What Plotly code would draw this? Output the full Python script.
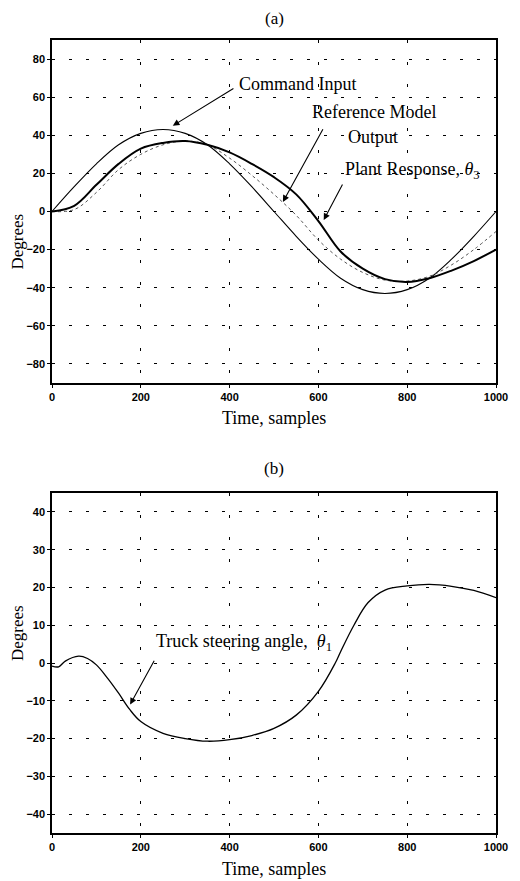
import plotly.graph_objects as go
from plotly.subplots import make_subplots

# ---- data ----
t_a = [0, 50, 100, 150, 200, 250, 300, 350, 400, 450, 500, 550, 600, 650, 700, 750, 800, 850, 900, 950, 1000]
command_input = [0, 13, 25, 35, 41, 43, 41, 35, 25, 13, 0, -13, -25, -35, -41, -43, -41, -35, -25, -13, 0]
plant_response = [0, 3, 14, 25, 33, 36, 37, 35, 31, 25, 18, 9, -5, -21, -30, -35.5, -37, -35, -31, -26, -20]
reference_output = [0, 1, 10, 22, 30, 35, 37, 35, 28, 19, 9, -2, -15, -25, -32, -36, -36.5, -34, -28, -20, -10.5]

t_b = [0, 15, 30, 60, 80, 100, 125, 150, 175, 200, 250, 300, 350, 400, 450, 500, 550, 600, 638, 650, 680, 712, 750, 800, 850, 900, 950, 1000]
steering_angle = [-0.8, -1, 0.5, 1.8, 1.2, -0.5, -4, -8, -12.3, -15.5, -18.6, -20, -20.7, -20.3, -19.2, -17.3, -13.8, -7.5, 0, 3, 10, 16, 19.3, 20.4, 20.8, 20.3, 19.2, 17.3]

x_ticks = [0, 200, 400, 600, 800, 1000]
y_ticks_a = [-80, -60, -40, -20, 0, 20, 40, 60, 80]
y_ticks_b = [-40, -30, -20, -10, 0, 10, 20, 30, 40]

# page body has an 8px margin, so the figure is drawn 8px right/down
W, H = 512, 873
mL, mR, mT, mB = 44, 17, 32, 48
plotH = H - mT - mB
top_a, bot_a = 32, 375
top_b, bot_b = 485, 825
dom_a = [(H - mB - bot_a) / plotH, (H - mB - top_a) / plotH]
dom_b = [(H - mB - bot_b) / plotH, (H - mB - top_b) / plotH]

fig = make_subplots(rows=2, cols=1)

fig.add_trace(go.Scatter(x=t_a, y=command_input, mode="lines", line=dict(color="black", width=1.1, shape="spline")), row=1, col=1)
fig.add_trace(go.Scatter(x=t_a, y=reference_output, mode="lines", line=dict(color="#555555", width=1, dash="dot", shape="spline")), row=1, col=1)
fig.add_trace(go.Scatter(x=t_a, y=plant_response, mode="lines", line=dict(color="black", width=2, shape="spline")), row=1, col=1)
fig.add_trace(go.Scatter(x=t_b, y=steering_angle, mode="lines", line=dict(color="black", width=1.3, shape="spline")), row=2, col=1)

serif = "Liberation Serif"
sans = "Liberation Sans"

axis_common = dict(
    showline=True, linecolor="black", linewidth=1.5, mirror=True,
    ticks="outside", ticklen=3, tickcolor="black",
    tickfont=dict(family=sans, size=11, color="black", weight="bold"),
    showgrid=True, gridcolor="black", gridwidth=1, zeroline=False,
)

fig.update_xaxes(axis_common, range=[0, 1000], tickvals=x_ticks, griddash="3px,19px")
fig.update_yaxes(axis_common, griddash="3px,14px")
fig.update_yaxes(range=[-90, 90], tickvals=y_ticks_a, domain=dom_a, row=1, col=1)
fig.update_yaxes(range=[-45, 45], tickvals=y_ticks_b, domain=dom_b, row=2, col=1)

ann = []
txt = dict(family=serif, size=18, color="black")
# titles
ann.append(dict(text="(a)", xref="paper", yref="paper", x=0.5, y=dom_a[1], yanchor="middle", yshift=22, showarrow=False, font=dict(family=serif, size=17, color="black")))
ann.append(dict(text="(b)", xref="paper", yref="paper", x=0.5, y=dom_b[1], yanchor="middle", yshift=25, showarrow=False, font=dict(family=serif, size=17, color="black")))
ann.append(dict(text="Time, samples", xref="paper", yref="paper", x=0.5, y=dom_a[0], yanchor="middle", yshift=-35, showarrow=False, font=txt))
ann.append(dict(text="Time, samples", xref="paper", yref="paper", x=0.5, y=dom_b[0], yanchor="middle", yshift=-36, showarrow=False, font=txt))
for dom in (dom_a, dom_b):
    ann.append(dict(text="Degrees", xref="paper", yref="paper", x=0, y=(dom[0] + dom[1]) / 2, xanchor="center", xshift=-35, textangle=-90, showarrow=False, font=dict(family=serif, size=17, color="black")))

# top plot callouts
ann.append(dict(text="Command Input", xref="x", yref="y", x=555, y=67, showarrow=False, font=txt))
ann.append(dict(x=272, y=45, ax=412, ay=65, xref="x", yref="y", axref="x", ayref="y", showarrow=True, arrowhead=2, arrowsize=1.2, arrowwidth=1.1, arrowcolor="black", text=""))
ann.append(dict(text="Reference Model", xref="x", yref="y", x=726, y=52, showarrow=False, font=txt))
ann.append(dict(text="Output", xref="x", yref="y", x=722, y=39, showarrow=False, font=txt))
ann.append(dict(x=520, y=5, ax=612, ay=44, xref="x", yref="y", axref="x", ayref="y", showarrow=True, arrowhead=2, arrowsize=1.2, arrowwidth=1.1, arrowcolor="black", text=""))
ann.append(dict(text="Plant Response, <i>θ</i><sub>3</sub>", xref="x", yref="y", x=813, y=21.5, showarrow=False, font=txt))
ann.append(dict(x=612, y=-4.5, ax=656, ay=15, xref="x", yref="y", axref="x", ayref="y", showarrow=True, arrowhead=2, arrowsize=1.2, arrowwidth=1.1, arrowcolor="black", text=""))
# bottom plot callout
ann.append(dict(text="Truck steering angle,  <i>θ</i><sub>1</sub>", xref="x2", yref="y2", x=432, y=5.5, showarrow=False, font=txt))
ann.append(dict(x=176, y=-11, ax=232, ay=1, xref="x2", yref="y2", axref="x2", ayref="y2", showarrow=True, arrowhead=2, arrowsize=1.2, arrowwidth=1.1, arrowcolor="black", text=""))

fig.update_layout(
    width=W, height=H, autosize=False,
    margin=dict(l=mL, r=mR, t=mT, b=mB),
    paper_bgcolor="white", plot_bgcolor="white",
    showlegend=False, annotations=ann,
)

fig.write_html("out.html")
